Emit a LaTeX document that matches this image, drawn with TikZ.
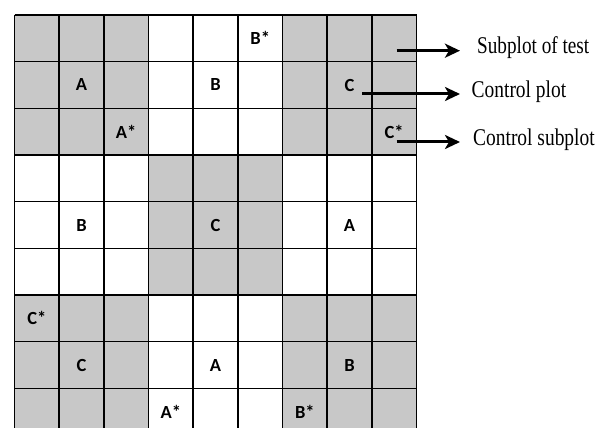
\documentclass[tikz,border=0pt]{standalone}
\usepackage{fontspec}
\setmainfont{Liberation Serif}
\newfontfamily\lblfont{Carlito}
\usetikzlibrary{arrows.meta}
\definecolor{cellgray}{RGB}{200,200,200}
\begin{document}
\begin{tikzpicture}[x=1pt,y=-1pt,
  gridline/.style={line width=1.4pt, black},
  lbl/.style={font=\lblfont\bfseries\fontsize{18.5}{18.5}\selectfont, inner sep=0pt},
  captext/.style={font=\fontsize{24}{24}\selectfont, inner sep=0pt, anchor=west},
  arr/.style={line width=3pt, -{Stealth[length=15pt,width=14pt,inset=4pt]}}]
\useasboundingbox (0,0) rectangle (606,428);
\def\gx{14.5}\def\gy{15}\def\cw{44.667}\def\ch{46.667}
\begin{scope}
\clip (0,0) rectangle (606,428);
% shaded 3x3 blocks
\foreach \bi in {0,1,2}{
  \foreach \bj in {0,1,2}{
    \pgfmathtruncatemacro\pp{mod(\bi+\bj,2)}
    \ifnum\pp=0
      \fill[cellgray] ({\gx+3*\bj*\cw},{\gy+3*\bi*\ch}) rectangle ++({3*\cw},{3*\ch});
    \fi
  }
}
% grid lines
\foreach \i in {0,...,9}{
  \draw[gridline] ({\gx+\i*\cw},{\gy}) -- ({\gx+\i*\cw},{\gy+9*\ch});
  \draw[gridline] ({\gx},{\gy+\i*\ch}) -- ({\gx+9*\cw},{\gy+\i*\ch});
}
\end{scope}
% cell labels: column/row/text/name
\foreach \c/\r/\t/\n in {5/0/B*/l1, 1/1/A/l2, 4/1/B/l3, 7/1/C/l4, 2/2/A*/l5, 8/2/C*/l6,
  1/4/B/l7, 4/4/C/l8, 7/4/A/l9, 0/6/C*/l10, 1/7/C/l11, 4/7/A/l12, 7/7/B/l13,
  3/8/A*/l14, 6/8/B*/l15}{
  \node[lbl] (\n) at ({\gx+(\c+0.5)*\cw},{\gy+(\r+0.5)*\ch}) {\t};
}
% legend texts
\node[captext] (t1) at (477,48) {\scalebox{0.8}[1]{Subplot of test}};
\node[captext] (t2) at (471.5,92) {\scalebox{0.81}[1]{Control plot}};
\node[captext] (t3) at (473,140) {\scalebox{0.81}[1]{Control subplot}};
% arrow start points
\coordinate (s1) at (396.7,50.7);
\coordinate (s2) at (362,94);
\coordinate (s3) at (396.7,142);
\draw[arr, shorten >=17pt] (s1) -- (s1 -| t1.west);
\draw[arr, shorten >=11.5pt] (s2) -- (s2 -| t2.west);
\draw[arr, shorten >=13pt] (s3) -- (s3 -| t3.west);
\end{tikzpicture}
\end{document}
